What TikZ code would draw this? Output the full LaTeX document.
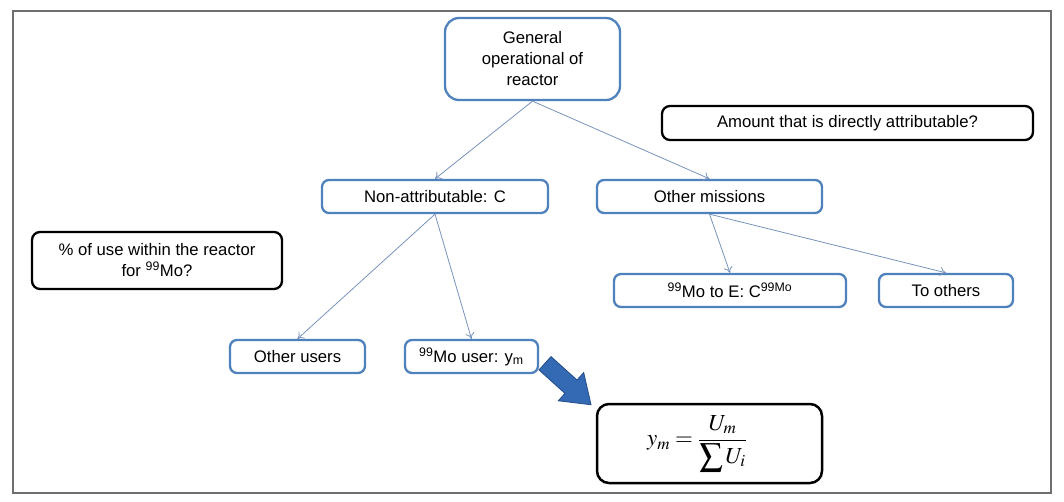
\documentclass[tikz,border=0pt]{standalone}
\usepackage{mathptmx}
\usepackage{fontspec}
\setmainfont{Liberation Sans}
\usetikzlibrary{arrows.meta}
\definecolor{boxblue}{RGB}{79,129,189}
\definecolor{linkblue}{RGB}{120,146,190}
\definecolor{bigblue}{RGB}{52,106,180}
\definecolor{bigedge}{RGB}{36,78,140}
\definecolor{framegray}{RGB}{110,110,110}
\begin{document}
\begin{tikzpicture}[x=1pt,y=-1pt,
  every node/.style={font=\fontsize{16.7}{21}\selectfont, inner sep=0pt, align=center},
  bluebox/.style={draw=boxblue, line width=2.3pt, rounded corners=7pt, fill=white},
  blackbox/.style={draw=black, line width=2.3pt, rounded corners=8pt, fill=white},
  link/.style={draw=linkblue, line width=0.8pt, -{To[length=6pt,width=9pt]}}
]
\useasboundingbox (0,0) rectangle (1064,502);
\draw[framegray, line width=1.5pt] (13,11) rectangle (1051,493);

\node[bluebox, rounded corners=14pt, minimum width=175pt, minimum height=82pt] (gen) at (532.5,59) {General\\operational of\\reactor};
\node[blackbox, minimum width=371pt, minimum height=34pt] (amt) at (847.5,123) {Amount that is directly attributable?};
\node[bluebox, minimum width=226pt, minimum height=33pt] (nonattr) at (435,196.5) {Non-attributable: C};
\node[bluebox, minimum width=225pt, minimum height=33pt] (othm) at (709.5,196.5) {Other missions};
\node[blackbox, minimum width=250pt, minimum height=57pt] (pct) at (157,260.5) {\% of use within the reactor\\for \textsuperscript{99}Mo?};
\node[bluebox, minimum width=232pt, minimum height=33pt] (moE) at (730,290.5) {\textsuperscript{99}Mo to E: C\textsuperscript{99Mo}};
\node[bluebox, minimum width=134pt, minimum height=33pt] (toth) at (946,290.5) {To others};
\node[bluebox, minimum width=135pt, minimum height=33pt] (ousr) at (297.5,356.5) {Other users};
\node[bluebox, minimum width=133pt, minimum height=33pt] (mousr) at (471.5,356.5) {\textsuperscript{99}Mo user: y\textsubscript{m}};
\node[blackbox, line width=2.5pt, rounded corners=12pt, minimum width=225pt, minimum height=79pt] (form) at (709.5,443.5) {};
\node[font=\fontsize{23}{27}\selectfont] (formtext) at (697,443.5) {$\displaystyle y_m=\frac{U_m}{\displaystyle\sum U_i}$};

\draw[link] (gen.south) -- (nonattr.north);
\draw[link] (gen.south) -- (othm.north);
\draw[link] (nonattr.south) -- (ousr.north);
\draw[link] (nonattr.south) -- (mousr.north);
\draw[link] (othm.south) -- (moE.north);
\draw[link] (othm.south) -- (toth.north);

\begin{scope}[shift={(568,384)}, rotate=-42]
  \fill[bigblue, draw=bigedge, line width=0.8pt]
    (-31,-9) -- (4,-9) -- (4,-19) -- (31,0) -- (4,19) -- (4,9) -- (-31,9) -- cycle;
\end{scope}
\end{tikzpicture}
\end{document}
